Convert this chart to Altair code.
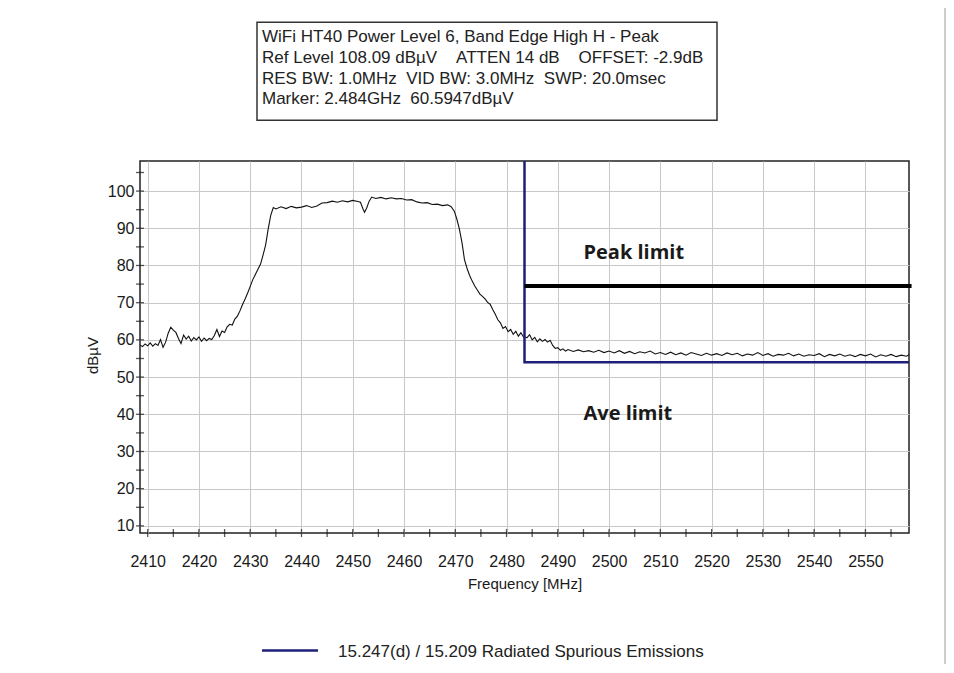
import altair as alt
import pandas as pd

# ---------------- data ----------------
freq = [2408.5, 2409.0, 2409.5, 2410.0, 2410.5, 2411.0, 2411.5, 2412.0, 2412.5, 2413.0,
        2413.5, 2414.0, 2414.5, 2415.0, 2415.5, 2416.0, 2416.5, 2417.0, 2417.5, 2418.0,
        2418.5, 2419.0, 2419.5, 2420.0, 2420.5, 2421.0, 2421.5, 2422.0, 2422.5, 2423.0,
        2423.5, 2424.0, 2424.5, 2425.0, 2425.5, 2426.0, 2426.5, 2427.0, 2427.5, 2428.0,
        2428.5, 2429.0, 2429.5, 2430.0, 2430.5, 2431.0, 2431.5, 2432.0, 2432.5, 2433.0,
        2433.5, 2434.0, 2434.5, 2435.0, 2436.0, 2437.0, 2438.0, 2439.0, 2440.0, 2441.0,
        2442.0, 2443.0, 2444.0, 2445.0, 2446.0, 2447.0, 2448.0, 2449.0, 2450.0, 2451.0,
        2451.5, 2452.0, 2452.3, 2452.7, 2453.2, 2453.7, 2454.5, 2455.5, 2456.5, 2457.5,
        2458.5, 2459.5, 2460.5, 2461.5, 2462.5, 2463.5, 2464.5, 2465.5, 2466.5, 2467.5,
        2468.5, 2469.2, 2469.8, 2470.3, 2470.8, 2471.3, 2471.8, 2472.3, 2472.8, 2473.3,
        2473.8, 2474.3, 2474.8, 2475.3, 2475.8, 2476.3, 2476.8, 2477.3, 2477.8, 2478.3,
        2478.8, 2479.3, 2479.8, 2480.3, 2480.8, 2481.3, 2481.8, 2482.3, 2482.8, 2483.3,
        2484.0, 2484.5, 2485.0, 2485.5, 2486.0, 2486.5, 2487.0, 2487.5, 2488.0, 2488.5,
        2489.0, 2489.5, 2490.0, 2490.5, 2491.0, 2491.5, 2492.0, 2493.0, 2494.0, 2495.0,
        2496.0, 2497.0, 2498.0, 2499.0, 2500.0, 2501.0, 2502.0, 2503.0, 2504.0, 2505.0,
        2506.0, 2507.0, 2508.0, 2509.0, 2510.0, 2511.0, 2512.0, 2513.0, 2514.0, 2515.0,
        2516.0, 2517.0, 2518.0, 2519.0, 2520.0, 2521.0, 2522.0, 2523.0, 2524.0, 2525.0,
        2526.0, 2527.0, 2528.0, 2529.0, 2530.0, 2531.0, 2532.0, 2533.0, 2534.0, 2535.0,
        2536.0, 2537.0, 2538.0, 2539.0, 2540.0, 2541.0, 2542.0, 2543.0, 2544.0, 2545.0,
        2546.0, 2547.0, 2548.0, 2549.0, 2550.0, 2551.0, 2552.0, 2553.0, 2554.0, 2555.0,
        2556.0, 2557.0, 2558.0, 2558.5]

level = [58.6, 58.2, 58.9, 58.4, 59.2, 58.3, 59.0, 58.5, 60.1, 58.0,
         59.4, 61.8, 63.4, 62.6, 62.0, 60.4, 59.0, 61.3, 60.2, 61.0,
         59.7, 60.6, 60.0, 60.8, 59.6, 60.5, 59.8, 60.4, 60.1, 61.2,
         62.8, 60.9, 62.4, 62.0, 63.5, 64.2, 64.0, 65.6, 66.4, 67.8,
         69.5, 71.0, 72.6, 74.4, 76.2, 77.6, 79.0, 80.3, 82.8, 85.5,
         89.8, 93.5, 95.6, 95.2, 95.8, 95.3, 95.9, 95.5, 95.7, 96.1,
         95.6, 96.0, 96.8, 96.9, 97.3, 97.0, 97.4, 97.1, 97.5, 97.2,
         97.0, 95.2, 94.3, 95.4, 97.3, 98.4, 98.0, 98.3, 97.9, 98.2,
         97.9, 98.0, 97.6, 97.7, 97.1, 96.8, 96.9, 96.4, 96.5, 96.1,
         96.3, 95.8, 94.6, 92.5, 89.8, 86.2, 81.5, 79.2, 77.3, 75.8,
         74.5, 73.4, 72.3, 71.7, 71.0, 70.1, 69.6, 68.2, 66.9, 65.4,
         64.6, 63.1, 63.6, 62.2, 62.8, 61.5, 62.3, 61.0, 61.9, 60.8,
         60.6, 61.4, 60.0, 60.7, 59.5, 60.3, 59.6, 60.1, 59.4, 59.9,
         58.5, 57.7, 57.9, 57.2, 57.6, 57.0, 57.4, 56.9, 57.3, 56.8,
         57.1, 56.7, 57.2, 56.6, 57.0, 56.5, 57.1, 56.4, 56.9, 56.3,
         56.8, 56.5, 57.0, 56.2, 56.6, 56.1, 56.7, 56.0, 56.5, 55.9,
         56.6, 56.2, 55.8, 56.4, 55.9, 56.3, 55.8, 56.5, 56.0, 56.4,
         55.7, 56.2, 55.9, 56.6, 55.8, 56.3, 55.6, 56.1, 55.9, 56.4,
         55.7, 56.2, 55.6, 56.0, 55.8, 56.3, 55.5, 56.1, 55.7, 56.2,
         55.6, 56.0, 55.5, 56.1, 55.7, 56.2, 55.4, 56.0, 55.6, 56.1,
         55.5, 55.9, 55.6, 56.0]

x_labels = [2410, 2420, 2430, 2440, 2450, 2460, 2470, 2480, 2490, 2500,
            2510, 2520, 2530, 2540, 2550]
x_ticks = [2410, 2415, 2420, 2425, 2430, 2435, 2440, 2445, 2450, 2455,
           2460, 2465, 2470, 2475, 2480, 2485, 2490, 2495, 2500, 2505,
           2510, 2515, 2520, 2525, 2530, 2535, 2540, 2545, 2550, 2555]
y_labels = [10, 20, 30, 40, 50, 60, 70, 80, 90, 100]
y_ticks = [10, 15, 20, 25, 30, 35, 40, 45, 50, 55, 60, 65, 70, 75, 80, 85,
           90, 95, 100, 105]

x_domain = [2408.5, 2558.5]
ref_level = 108.09
y_domain = [8.09, 108.09]

band_edge = 2483.5
ave_limit = 54.0
peak_limit = 74.5
limit_f = [band_edge, band_edge, 2558.5]
limit_v = [ref_level, ave_limit, ave_limit]

NB = "\u00a0"
info_lines = ["WiFi HT40 Power Level 6, Band Edge High H - Peak",
              "Ref Level 108.09 dB\u00b5V" + NB * 4 + "ATTEN 14 dB" + NB * 4 + "OFFSET: -2.9dB",
              "RES BW: 1.0MHz" + NB * 2 + "VID BW: 3.0MHz" + NB * 2 + "SWP: 20.0msec",
              "Marker: 2.484GHz" + NB * 2 + "60.5947dB\u00b5V"]
legend_label = "15.247(d) / 15.209 Radiated Spurious Emissions"
annotations = ["Peak limit", "Ave limit"]
annot_f = [2495.0, 2495.0]
annot_v = [83.3, 40.2]

# ---------------- layout / style ----------------
W, H = 769, 372
FONT = "Liberation Sans, Arial, sans-serif"
TXT = "#1a1a1a"
NAVY = "#1f1f7a"

xs = alt.Scale(domain=x_domain, nice=False, zero=False)
ys = alt.Scale(domain=y_domain, nice=False, zero=False)
xaxis = alt.Axis(values=x_labels, title="Frequency [MHz]", grid=True, ticks=False,
                 domain=False, labelPadding=20, labelFontSize=16, labelFont=FONT,
                 labelColor=TXT, titleFont=FONT, titleFontSize=15, titleFontWeight="normal",
                 titleColor=TXT, titleY=50, titleBaseline="middle", format="d")
yaxis = alt.Axis(values=y_labels, title="dB\u00b5V", grid=True, ticks=False,
                 domain=False, labelPadding=6, labelFontSize=16, labelFont=FONT,
                 labelColor=TXT, titleFont=FONT, titleFontSize=15, titleFontWeight="normal",
                 titleColor=TXT, titleX=-48, titleY=H / 2 + 8, titleAngle=270,
                 titleAlign="center", titleBaseline="middle")


def X(field="f"):
    return alt.X(f"{field}:Q", scale=xs, axis=xaxis)


def Y(field="v"):
    return alt.Y(f"{field}:Q", scale=ys, axis=yaxis)


one = pd.DataFrame({"k": [0]})

trace = alt.Chart(pd.DataFrame({"f": freq, "v": level})).mark_line(
    color="#111111", strokeWidth=1.1, interpolate="linear"
).encode(x=X(), y=Y())

xt = alt.Chart(pd.DataFrame({"f": x_ticks})).mark_tick(
    color="#111111", thickness=1.3, size=8
).encode(x=X(), y=alt.value(H))

yt = alt.Chart(pd.DataFrame({"v": y_ticks})).mark_tick(
    color="#111111", thickness=1.3, size=8
).encode(y=Y(), x=alt.value(0))

blue = alt.Chart(pd.DataFrame({"f": limit_f, "v": limit_v, "o": [0, 1, 2]})).mark_line(
    color=NAVY, strokeWidth=2.5
).encode(x=X(), y=Y(), order="o:O")

peak = alt.Chart(pd.DataFrame({"f": [band_edge], "f2": [2559.0], "v": [peak_limit]})).mark_rule(
    color="#000000", strokeWidth=4
).encode(x=X(), x2="f2:Q", y=Y())

annot = alt.Chart(pd.DataFrame({"f": annot_f, "v": annot_v, "t": annotations})).mark_text(
    font="Open Sans", fontWeight="bold", fontSize=20, align="left", baseline="middle",
    color="#1a1a1a"
).encode(x=X(), y=Y(), text="t:N")

box = alt.Chart(one).mark_rect(fill="white", stroke="#333333", strokeWidth=1.5).encode(
    x=alt.value(117), x2=alt.value(577), y=alt.value(-138.7), y2=alt.value(-40.7)
)
box_text = alt.Chart(one).mark_text(
    font=FONT, fontSize=17, align="left",
    baseline="middle", lineHeight=20.7, color="#222222"
).encode(x=alt.value(122), y=alt.value(-123.7), text=alt.value(info_lines))

leg_line = alt.Chart(one).mark_rule(color=NAVY, strokeWidth=2.5).encode(
    x=alt.value(122), x2=alt.value(178), y=alt.value(489.5)
)
leg_text = alt.Chart(one).mark_text(
    font=FONT, fontSize=17, align="left", baseline="middle", color="#222222"
).encode(x=alt.value(198), y=alt.value(491), text=alt.value(legend_label))

edge = alt.Chart(one).mark_rule(color="#9a9a9a", strokeWidth=1).encode(
    x=alt.value(805), y=alt.value(-160), y2=alt.value(H + 150)
)

chart = alt.layer(
    trace, xt, yt, blue, peak, annot, box, box_text, leg_line, leg_text, edge
).properties(
    width=W, height=H,
    autosize=alt.AutoSizeParams(type="none"),
    padding={"left": 132, "top": 153, "right": 37, "bottom": 131},
    background="white",
).configure_view(
    stroke="#222222", strokeWidth=1.5
).configure_axis(
    gridColor="#c8c8c8", gridWidth=1, gridOpacity=1
)

chart.save("out.html", embed_options={"renderer": "svg", "actions": False})
